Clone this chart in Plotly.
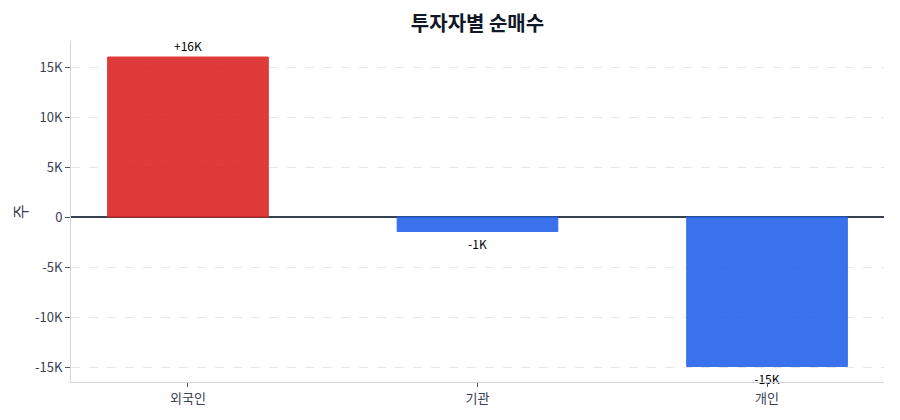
import plotly.graph_objects as go

investors = ['외국인', '기관', '개인']
net_buy = [16000, -1450, -14950]
labels = ['+16K', '-1K', '-15K']
colors = ['#dc2626', '#2563eb', '#2563eb']

fig = go.Figure()
fig.add_trace(go.Bar(
    x=investors, y=net_buy, text=labels, textposition='outside',
    marker=dict(color=colors, opacity=0.9, line=dict(color=colors, width=1)),
    textfont=dict(size=12, color='#000000'), width=0.555, cliponaxis=False,
))

fig.update_layout(
    width=900, height=420,
    margin=dict(l=63, r=24, t=33, b=46),
    paper_bgcolor='white', plot_bgcolor='white',
    font=dict(family='Noto Sans CJK KR', size=13, color='#374151'),
    title=dict(text='<b>투자자별 순매수</b>', x=0.5, xref='paper', xanchor='center',
               y=0.962, yref='container', yanchor='middle',
               font=dict(size=20, color='#111827')),
    showlegend=False,
)
fig.update_xaxes(range=[-0.404, 2.404], showline=True, linecolor='#d1d5db', linewidth=1,
                 ticks='outside', tickcolor='#4b5563', ticklen=4, showgrid=False,
                 automargin=False)
fig.update_yaxes(title=dict(text='주', standoff=14), range=[-16500, 17600],
                 tickvals=[-15000, -10000, -5000, 0, 5000, 10000, 15000],
                 ticktext=['-15K', '-10K', '-5K', '0', '5K', '10K', '15K'],
                 showline=True, linecolor='#d1d5db', linewidth=1, ticks='outside',
                 tickcolor='#4b5563', ticklen=5, automargin=False,
                 gridcolor='#e5e7eb', griddash='dash', gridwidth=1,
                 zeroline=True, zerolinecolor='#374151', zerolinewidth=1.5)

fig.write_html("out.html")
